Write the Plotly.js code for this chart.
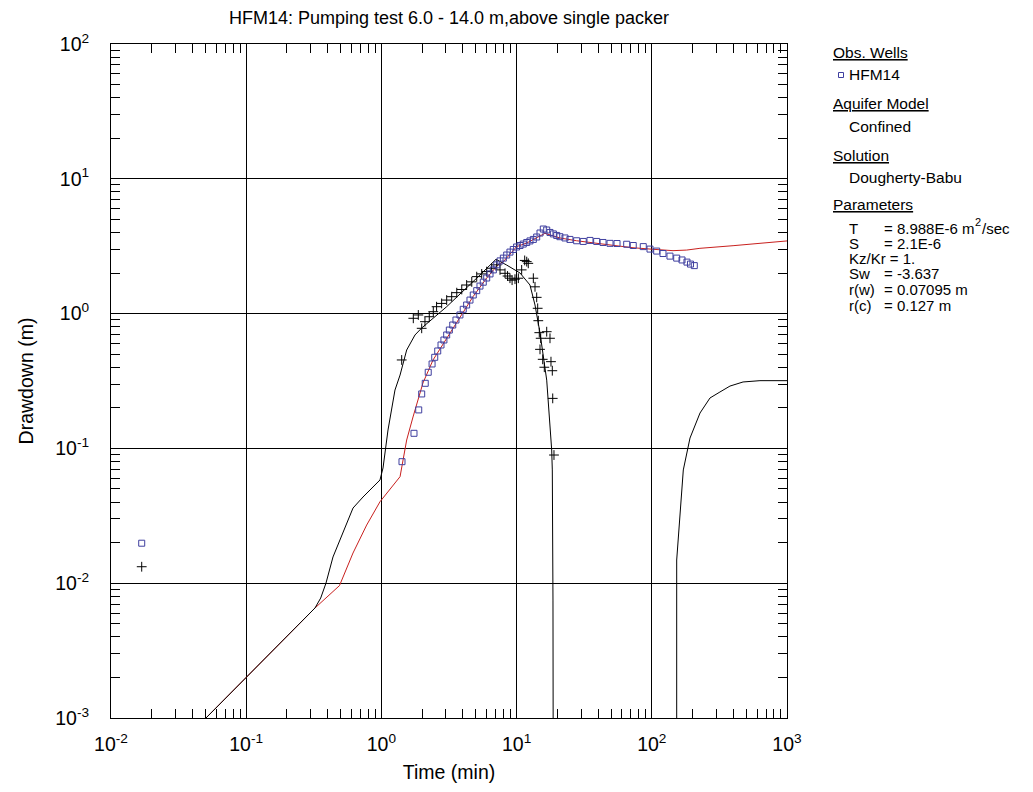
<!DOCTYPE html>
<html>
<head>
<meta charset="utf-8">
<script src="https://cdn.plot.ly/plotly-3.0.1.min.js"></script>
<style>html,body{margin:0;padding:0;background:#fff}#chart{width:1033px;height:792px}</style>
</head>
<body>
<div id="chart"></div>
<script>
// ---- data ----
var obsTime = [0.01687, 1.42, 1.742, 1.888, 1.986, 2.11, 2.22, 2.37, 2.48, 2.61, 2.76, 2.90, 3.04, 3.18, 3.37, 3.56, 3.81, 4.03, 4.27, 4.52, 4.78, 5.07, 5.36, 5.67, 6.01, 6.36, 6.73, 7.13, 7.54, 7.98, 8.45, 8.93, 9.45, 10.0, 10.6, 11.2, 11.88, 12.56, 13.3, 14.08, 14.9, 15.76, 16.7, 17.66, 18.7, 19.8, 20.9, 22.8, 24.8, 27.8, 31.1, 34.9, 39.1, 43.6, 49.1, 55.3, 65.2, 72.9, 86.5, 97, 108.7, 121, 136.3, 152.8, 167.3, 182, 193.2, 206.2];
var obsDrawdown = [0.0198, 0.0797, 0.1294, 0.193, 0.2535, 0.304, 0.367, 0.423, 0.474, 0.528, 0.585, 0.637, 0.694, 0.755, 0.823, 0.896, 0.977, 1.076, 1.158, 1.26, 1.374, 1.48, 1.60, 1.71, 1.837, 1.97, 2.11, 2.30, 2.46, 2.58, 2.72, 2.86, 2.99, 3.12, 3.20, 3.28, 3.37, 3.46, 3.55, 3.70, 3.96, 4.24, 4.17, 4.0, 3.90, 3.80, 3.72, 3.64, 3.55, 3.47, 3.43, 3.49, 3.43, 3.37, 3.32, 3.31, 3.27, 3.20, 3.14, 3.01, 2.91, 2.79, 2.67, 2.58, 2.50, 2.41, 2.33, 2.27];

var derivTime = [0.01687, 1.413, 1.722, 1.875, 1.986, 2.10, 2.26, 2.42, 2.56, 2.79, 3.04, 3.31, 3.61, 3.93, 4.27, 4.66, 5.07, 5.52, 6.01, 6.54, 7.13, 7.54, 8.21, 8.57, 8.93, 9.26, 9.73, 10.3, 10.9, 11.48, 11.88, 12.2, 13.3, 13.68, 14.08, 14.32, 14.47, 14.72, 14.9, 15.07, 15.6, 16.03, 16.7, 17.66, 17.96, 18.37, 18.5, 18.9];
var derivValue = [0.01325, 0.453, 0.923, 0.977, 0.778, 0.871, 0.948, 1.033, 1.125, 1.19, 1.26, 1.335, 1.43, 1.51, 1.63, 1.72, 1.88, 1.97, 2.05, 2.17, 2.30, 2.11, 1.99, 1.90, 1.83, 1.77, 1.80, 1.83, 2.11, 2.48, 2.43, 2.36, 1.83, 1.58, 1.32, 1.095, 0.886, 0.722, 0.543, 0.656, 0.458, 0.40, 0.734, 0.656, 0.440, 0.377, 0.235, 0.0893];

var modelTime = [0.0504, 0.3228, 0.49, 0.6166, 0.778, 0.976, 1.374, 1.538, 1.713, 2.03, 2.41, 3.04, 3.81, 4.76, 6.01, 7.28, 7.93, 10.0, 11.88, 16.2, 20.9, 27.8, 49.1, 72.6, 102, 143.5, 181, 227, 399, 597, 1000];
var modelDrawdown = [0.001, 0.00655, 0.0096, 0.01675, 0.027, 0.0402, 0.0617, 0.1154, 0.171, 0.306, 0.453, 0.659, 0.948, 1.335, 1.837, 2.30, 2.41, 3.14, 3.34, 3.94, 3.64, 3.47, 3.23, 3.08, 3.0, 2.93, 2.96, 3.05, 3.19, 3.32, 3.46];

var modelDerivTime = [0.0504, 0.3228, 0.3556, 0.389, 0.4385, 0.4943, 0.6166, 0.731, 0.976, 1.028, 1.119, 1.26, 1.374, 1.538, 1.772, 1.986, 3.04, 5.36, 7.04, 8.45, 10.6, 12.56, 13.68, 14.9, 16.7, 18.18, 18.37, 18.58, 18.65, null, 152.8, 152.8, 171, 191.7, 227.3, 269.4, 319, 378.6, 473, 631, 1000];
var modelDerivValue = [0.001, 0.00655, 0.00776, 0.01, 0.01565, 0.0209, 0.0361, 0.0436, 0.0583, 0.0716, 0.137, 0.271, 0.350, 0.537, 0.694, 0.782, 1.125, 1.933, 2.53, 2.29, 2.0, 1.63, 1.158, 0.718, 0.321, 0.0973, 0.0692, 0.0075, 0.0005, null, 0.0005, 0.01486, 0.0692, 0.1194, 0.183, 0.2366, 0.262, 0.290, 0.311, 0.318, 0.318];

var xTickVals = [0.01, 0.1, 1, 10, 100, 1000];
var xTickText = ['10<sup>-2</sup>', '10<sup>-1</sup>', '10<sup>0</sup>', '10<sup>1</sup>', '10<sup>2</sup>', '10<sup>3</sup>'];
var yTickVals = [0.001, 0.01, 0.1, 1, 10, 100];
var yTickText = ['10<sup>-3</sup>', '10<sup>-2</sup>', '10<sup>-1</sup>', '10<sup>0</sup>', '10<sup>1</sup>', '10<sup>2</sup>'];

var titleText = 'HFM14: Pumping test 6.0 - 14.0 m,above single packer';
var legendRows = [
  {text: '<u>Obs. Wells</u>', indent: 0},
  {text: 'HFM14', indent: 1},
  {text: '<u>Aquifer Model</u>', indent: 0},
  {text: 'Confined', indent: 1},
  {text: '<u>Solution</u>', indent: 0},
  {text: 'Dougherty-Babu', indent: 1}
];
var paramNames = ['T', 'S', 'Kz/Kr = 1.', 'Sw', 'r(w)', 'r(c)'];
var paramValues = ['= 8.988E-6 m', '= 2.1E-6', '', '= -3.637', '= 0.07095 m', '= 0.127 m'];
var unitSup = '2';
var unitTail = '/sec';

// ---- layout geometry ----
var W = 1033, H = 792;
var mL = 111, mR = 246, mT = 44, mB = 74;
var pw = W - mL - mR, ph = H - mT - mB;
function px2x(px) { return (px - mL) / pw; }
function py2y(py) { return (H - mB - py) / ph; }

var FONT = 'Liberation Sans, Arial, sans-serif';
var squareColor = '#3f3f9f';
var LFS = 15.5;
var PFS = 15;

var traces = [
  {x: modelTime, y: modelDrawdown, mode: 'lines', line: {color: '#c8201e', width: 1}, hoverinfo: 'skip', showlegend: false},
  {x: modelDerivTime, y: modelDerivValue, mode: 'lines', connectgaps: false, line: {color: '#000', width: 1}, hoverinfo: 'skip', showlegend: false},
  {x: derivTime, y: derivValue, mode: 'markers', marker: {symbol: 'cross-thin', size: 7, line: {color: '#000', width: 1}, color: '#000'}, showlegend: false},
  {x: obsTime, y: obsDrawdown, mode: 'markers', marker: {symbol: 'square-open', size: 6, color: squareColor, line: {color: squareColor, width: 1}}, showlegend: false}
];

var annotations = [];
var ys = [53, 75, 104, 127, 155, 177];
legendRows.forEach(function (r, i) {
  annotations.push({xref: 'paper', yref: 'paper', x: px2x(r.indent ? 847 : 831), y: py2y(ys[i]),
    xanchor: 'left', yanchor: 'middle', showarrow: false, text: r.text, font: {family: FONT, size: LFS, color: '#000'}});
});
annotations.push({xref: 'paper', yref: 'paper', x: px2x(831), y: py2y(205), xanchor: 'left', yanchor: 'middle',
  showarrow: false, text: '<u>Parameters</u>', font: {family: FONT, size: LFS, color: '#000'}});
var pys = [228, 243, 258, 273, 289, 305];
paramNames.forEach(function (n, i) {
  annotations.push({xref: 'paper', yref: 'paper', x: px2x(847), y: py2y(pys[i]), xanchor: 'left', yanchor: 'middle',
    showarrow: false, text: n, font: {family: FONT, size: PFS, color: '#000'}});
  if (paramValues[i]) {
    annotations.push({xref: 'paper', yref: 'paper', x: px2x(882), y: py2y(pys[i]), xanchor: 'left', yanchor: 'middle',
      showarrow: false, text: paramValues[i], font: {family: FONT, size: PFS, color: '#000'}});
  }
});
// superscript unit of T, placed after "m"
annotations.push({xref: 'paper', yref: 'paper', x: px2x(973.5), y: py2y(222), xanchor: 'left', yanchor: 'middle',
  showarrow: false, text: unitSup, font: {family: FONT, size: 11, color: '#000'}, borderpad: 0});
annotations.push({xref: 'paper', yref: 'paper', x: px2x(980), y: py2y(228), xanchor: 'left', yanchor: 'middle',
  showarrow: false, text: unitTail, font: {family: FONT, size: PFS, color: '#000'}});

var shapes = [
  {type: 'rect', xref: 'paper', yref: 'paper', x0: px2x(838.5), x1: px2x(843.5), y0: py2y(77.5), y1: py2y(72.5),
    line: {color: squareColor, width: 1}, fillcolor: 'rgba(0,0,0,0)'}
];

var axisCommon = {
  type: 'log', showline: true, linecolor: '#000', linewidth: 1, mirror: 'ticks',
  ticks: 'inside', ticklen: 9, tickcolor: '#000', tickwidth: 1,
  showgrid: true, gridcolor: '#000', gridwidth: 1, zeroline: false,
  tickmode: 'array', tickfont: {family: FONT, size: 19.5, color: '#000'},
  minor: {dtick: 'D1', ticks: 'inside', ticklen: 9, tickcolor: '#000', tickwidth: 1, showgrid: false}
};

var layout = {
  width: W, height: H,
  margin: {l: mL, r: mR, t: mT, b: mB, pad: 0},
  paper_bgcolor: '#fff', plot_bgcolor: '#fff',
  font: {family: FONT, color: '#000'},
  title: {text: titleText, font: {family: FONT, size: 18, color: '#000'}, x: 449 / W, xanchor: 'center', y: 1 - 18 / H, yanchor: 'middle'},
  xaxis: Object.assign({}, axisCommon, {range: [-2, 3], tickvals: xTickVals, ticktext: xTickText, ticklabelstandoff: 9,
    title: {text: 'Time (min)', font: {family: FONT, size: 19.5, color: '#000'}, standoff: 10}}),
  yaxis: Object.assign({}, axisCommon, {range: [-3, 2], tickvals: yTickVals, ticktext: yTickText, ticklabelstandoff: 17,
    title: {text: 'Drawdown (m)', font: {family: FONT, size: 19.5, color: '#000'}, standoff: 16}}),
  annotations: annotations,
  shapes: shapes,
  showlegend: false
};

Plotly.newPlot('chart', traces, layout, {displayModeBar: false, staticPlot: true});
</script>
</body>
</html>
